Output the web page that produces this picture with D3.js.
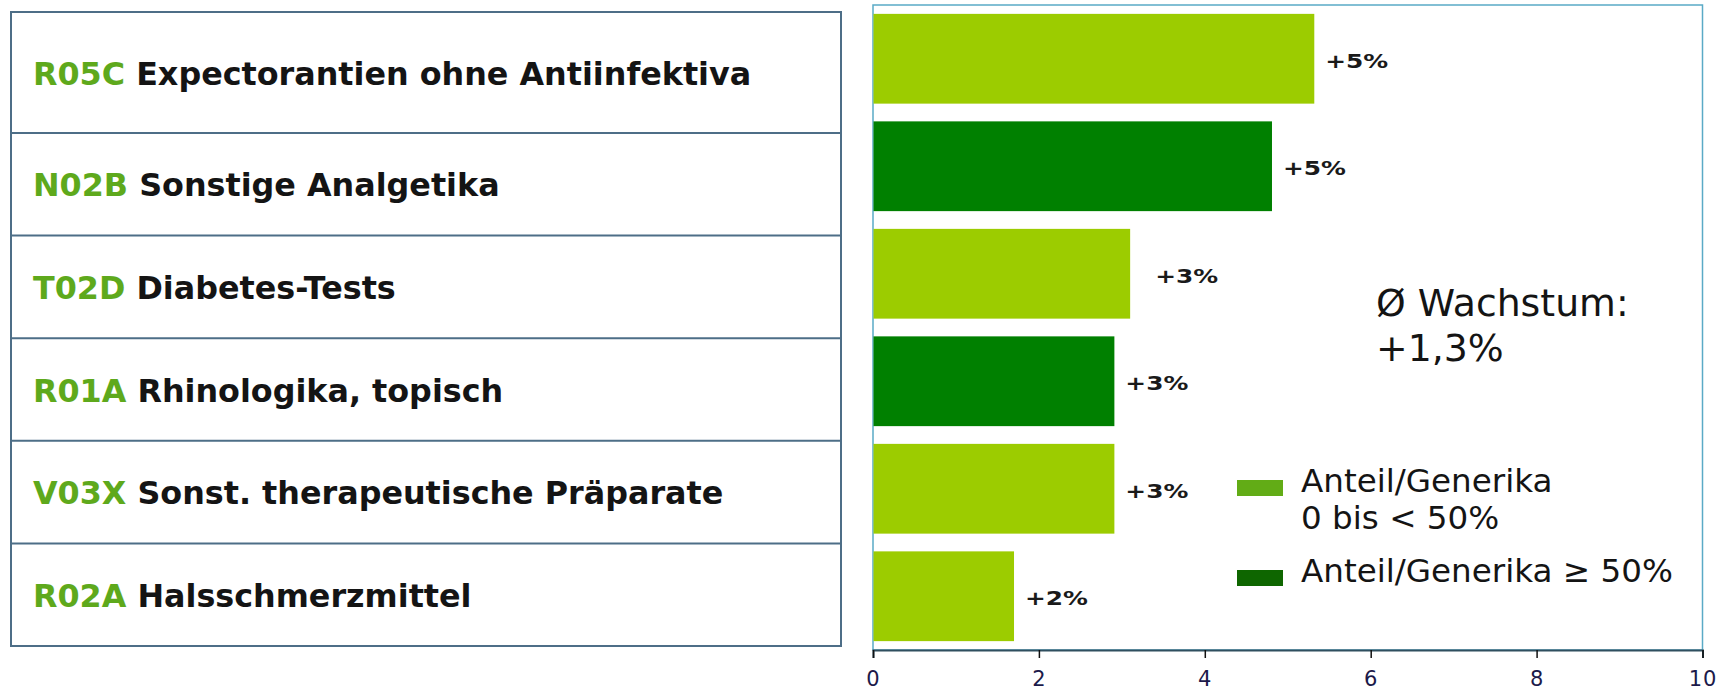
<!DOCTYPE html>
<html>
<head>
<meta charset="utf-8">
<script src="https://cdn.jsdelivr.net/npm/d3@7"></script>
<style>
  html, body { margin: 0; padding: 0; background: #ffffff; }
  svg { display: block; }
</style>
</head>
<body>
<svg id="chart" width="1726" height="693"></svg>
<script>
// ---- data ----
const codes = ["R05C", "N02B", "T02D", "R01A", "V03X", "R02A"];
const names = ["Expectorantien ohne Antiinfektiva", "Sonstige Analgetika", "Diabetes-Tests",
               "Rhinologika, topisch", "Sonst. therapeutische Präparate", "Halsschmerzmittel"];
const values = [5.32, 4.81, 3.10, 2.91, 2.91, 1.70];
const valueLabels = ["+5%", "+5%", "+3%", "+3%", "+3%", "+2%"];
const genericGroup = ["low", "high", "low", "high", "low", "low"]; // Anteil/Generika
const xTicks = [0, 2, 4, 6, 8, 10];
const legendLabels = [["Anteil/Generika", "0 bis < 50%"], ["Anteil/Generika ≥ 50%"]];
const avgText = ["Ø Wachstum:", "+1,3%"];

// ---- styles ----
const barColor = { low: "#9ccc00", high: "#008000" };
const legendColor = ["#62ac16", "#0e6600"];
const FONT = "'DejaVu Sans', Verdana, sans-serif";

const svg = d3.select("#chart");
svg.append("rect").attr("width", 1726).attr("height", 693).attr("fill", "#fff");

// ---- label table ----
const rowEdges = [12].concat(d3.range(6).map(i => 133 + i * (646 - 133) / 5));
const table = svg.append("g");
table.append("rect")
  .attr("x", 11).attr("y", rowEdges[0])
  .attr("width", 830).attr("height", rowEdges[6] - rowEdges[0])
  .attr("fill", "none").attr("stroke", "#4d6e87").attr("stroke-width", 2);
table.selectAll("line.row").data(rowEdges.slice(1, 6)).join("line")
  .attr("class", "row")
  .attr("x1", 11).attr("x2", 841)
  .attr("y1", d => d).attr("y2", d => d)
  .attr("stroke", "#4d6e87").attr("stroke-width", 2);
const rowText = table.selectAll("text.lab").data(codes).join("text")
  .attr("class", "lab")
  .attr("x", 33)
  .attr("y", (d, i) => (rowEdges[i] + rowEdges[i + 1]) / 2 + 12)
  .attr("font-family", FONT)
  .attr("font-weight", "bold")
  .attr("font-size", "31.8px");
rowText.append("tspan").attr("fill", "#5ea91c").text(d => d);
rowText.append("tspan").attr("fill", "#141414").text((d, i) => " " + names[i]);

// ---- bar plot ----
const x = d3.scaleLinear().domain([0, 10]).range([873, 1702.5]);
const y = d3.scaleBand().domain(codes).range([5, 650]).paddingInner(0.165).paddingOuter(0.0825);

svg.append("rect")
  .attr("x", x(0)).attr("y", 5)
  .attr("width", x(10) - x(0)).attr("height", 645)
  .attr("fill", "none").attr("stroke", "#5aaac6").attr("stroke-width", 1.5);

svg.append("g").selectAll("rect").data(codes).join("rect")
  .attr("x", x(0) + 0.5)
  .attr("y", d => y(d))
  .attr("width", (d, i) => x(values[i]) - x(0) - 0.5)
  .attr("height", y.bandwidth())
  .attr("fill", (d, i) => barColor[genericGroup[i]]);

svg.append("g").selectAll("text").data(codes).join("text")
  .attr("x", (d, i) => x(values[i]) + (i === 2 ? 25 : 11))
  .attr("y", d => y(d) + y.bandwidth() / 2 + 9)
  .attr("font-family", FONT)
  .attr("font-weight", "bold")
  .attr("font-size", "19px")
  .attr("textLength", 63)
  .attr("lengthAdjust", "spacingAndGlyphs")
  .attr("fill", "#1a1a1a")
  .text((d, i) => valueLabels[i]);

// axis
const axis = svg.append("g")
  .attr("transform", "translate(0,650)")
  .call(d3.axisBottom(x).tickValues(xTicks).tickSize(8).tickPadding(13).tickFormat(d3.format("d")));
axis.select(".domain").attr("stroke", "#2f4f5f").attr("stroke-width", 2);
axis.selectAll(".tick line").attr("stroke", "#111").attr("stroke-width", 1.5);
axis.selectAll(".tick text")
  .attr("font-family", FONT)
  .attr("font-size", "21px")
  .attr("letter-spacing", "1px")
  .attr("fill", "#1c1a4a");

// average growth text
svg.append("g").selectAll("text").data(avgText).join("text")
  .attr("x", 1376)
  .attr("y", (d, i) => 316 + i * 45)
  .attr("font-family", FONT)
  .attr("font-size", "37.8px")
  .attr("fill", "#141414")
  .text(d => d);

// legend
const legY = [480, 570];
const leg = svg.append("g");
leg.selectAll("rect").data(legendLabels).join("rect")
  .attr("x", 1237).attr("y", (d, i) => legY[i])
  .attr("width", 46).attr("height", 16)
  .attr("fill", (d, i) => legendColor[i]);
leg.selectAll("text").data(legendLabels).join("text")
  .attr("x", 1301)
  .attr("y", (d, i) => legY[i] + 12)
  .attr("font-family", FONT)
  .attr("font-size", "32.6px")
  .attr("fill", "#141414")
  .each(function(d) {
    d3.select(this).selectAll("tspan").data(d).join("tspan")
      .attr("x", 1301)
      .attr("dy", (t, j) => j === 0 ? 0 : 37.3)
      .text(t => t);
  });
</script>
</body>
</html>
